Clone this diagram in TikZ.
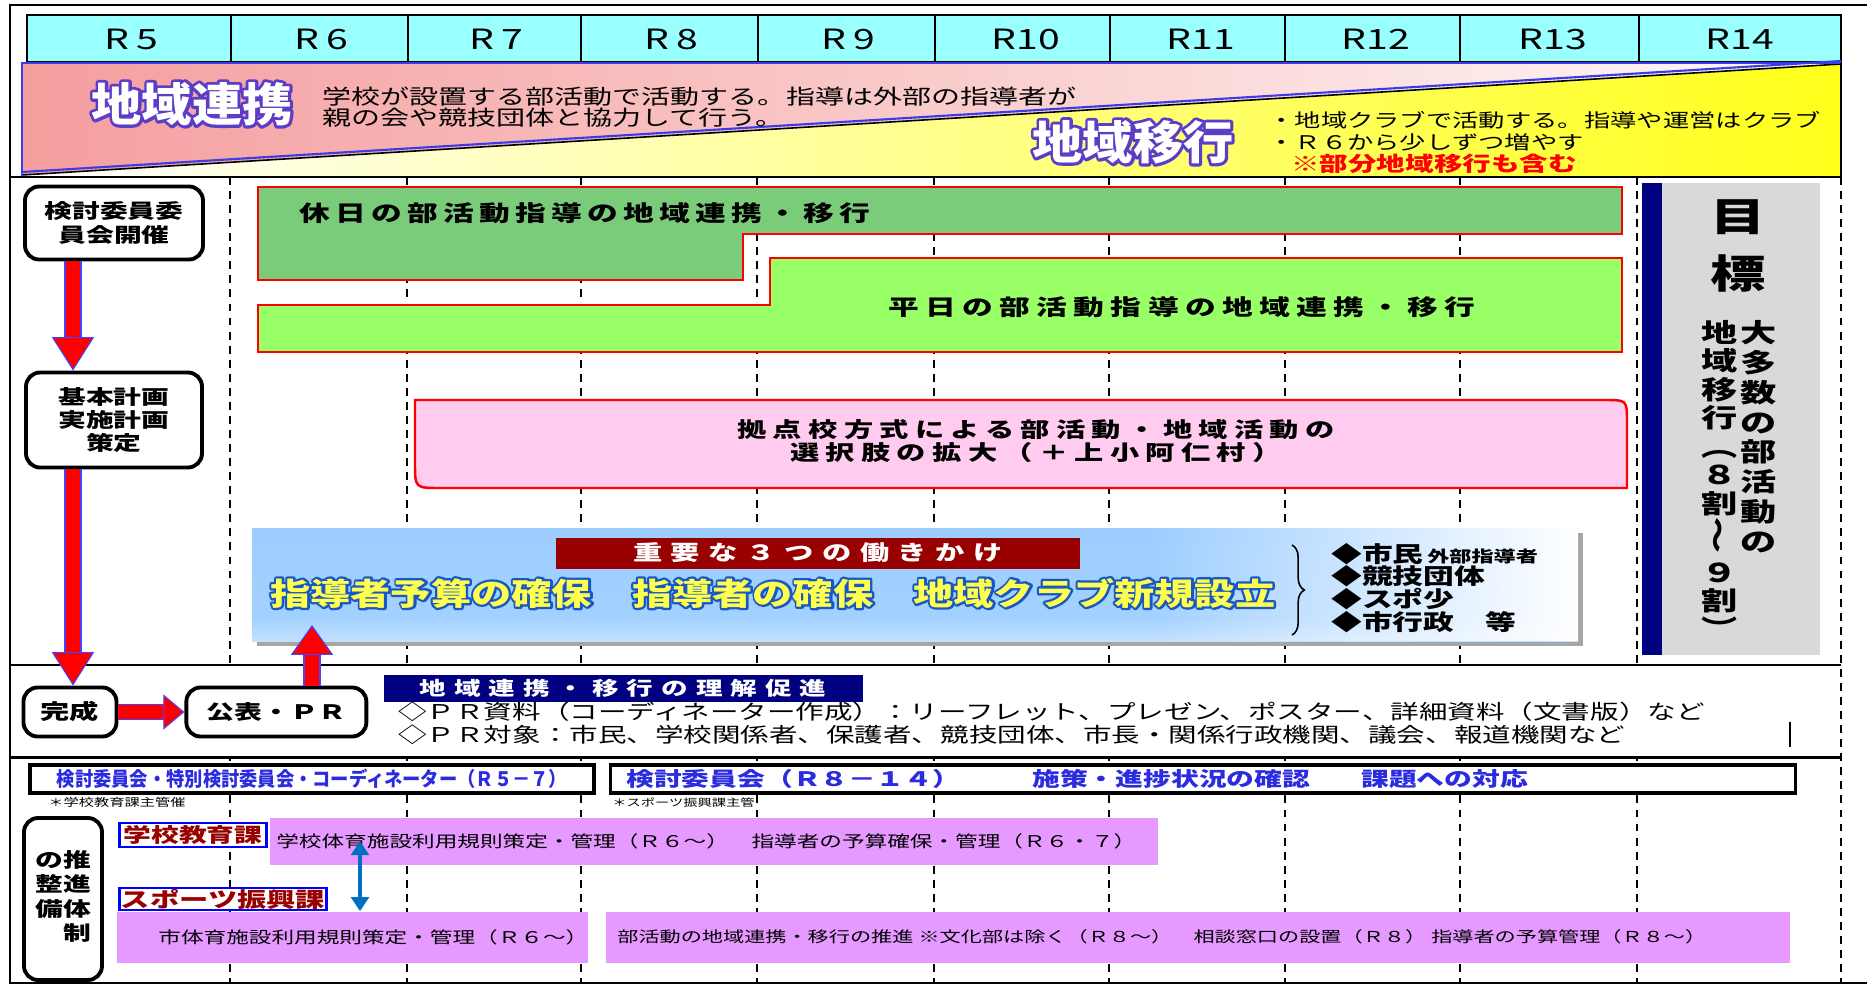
\documentclass[tikz,border=0pt]{standalone}
\usepackage{fontspec}
\usepackage{graphicx}
\usetikzlibrary{arrows.meta, positioning, decorations.pathreplacing, fadings}

\setmainfont{Noto Sans CJK JP}[FakeStretch=1.4]
\newfontfamily\popfont{Noto Sans CJK JP}[FakeStretch=1.1]
\newfontfamily\yelfont{Noto Sans CJK JP}[FakeStretch=1.3]
\newfontfamily\slimfont{Noto Sans CJK JP}[FakeStretch=0.92]

\newlength\pxu
\setlength\pxu{0.02cm}

\definecolor{headcyan}{HTML}{99FFFF}
\definecolor{bandpink}{HTML}{F59E9E}
\definecolor{bandyellow}{HTML}{FFFF1A}
\definecolor{bandblue}{HTML}{3C3CE6}
\definecolor{holidaygreen}{HTML}{7ACB7A}
\definecolor{weekdaygreen}{HTML}{99FF66}
\definecolor{hubpink}{HTML}{FFCCF0}
\definecolor{skyblue}{HTML}{99CCFF}
\definecolor{titlered}{HTML}{990000}
\definecolor{popyellow}{HTML}{FFFF4D}
\definecolor{goalnavy}{HTML}{000080}
\definecolor{goalgray}{HTML}{D9D9D9}
\definecolor{linkblue}{HTML}{2B2BE0}
\definecolor{deptred}{HTML}{990000}
\definecolor{deptblue}{HTML}{0000FF}
\definecolor{barviolet}{HTML}{E699FF}
\definecolor{linkarrow}{HTML}{0070C0}
\definecolor{outlineblue}{HTML}{4444FF}

% soft blue panel, white at the bottom
\pgfdeclareverticalshading{skyfade}{100bp}{color(0bp)=(white); color(12bp)=(white!80!skyblue); color(35bp)=(skyblue!90!white); color(100bp)=(skyblue)}
\tikzfading[name=fadein right, left color=transparent!100, right color=transparent!0]

% outlined lettering: stroke width, stroke rgb, fill colour, text
\newcommand\strokeword[4]{\rlap{\special{pdf:code 1 j #1 w #2 RG 1 Tr}#4\special{pdf:code 0 Tr}}\textcolor{#3}{#4}}

\begin{document}
\begin{tikzpicture}[x=0.02cm, y=-0.02cm, every node/.style={inner sep=0pt},
    gridline/.style={line width=1.1pt, dash pattern=on 4.5pt off 3.5pt},
    yearlabel/.style={font=\fontsize{15.9pt}{16pt}\selectfont},
    roundbox/.style={draw, line width=2.2pt, rounded corners=8pt, fill=white, align=center,
        font=\bfseries\fontsize{11.3pt}{13.3pt}\selectfont},
    redline/.style={draw=red, line width=1.4pt},
    spaced/.style args={#1/#2/#3}{font=\bfseries\fontsize{#1}{#2}\selectfont\addfontfeature{LetterSpace=#3}},
    fatarrow/.style args={#1/#2/#3}{draw=red, line width=#1,
        -{Triangle[width=#2, length=#3, fill=red, color=outlineblue, line width=0.6pt]},
        preaction={draw=outlineblue, line width=#1+1.4pt, -, shorten >=#3-1pt}},
    deptbox/.style={draw=deptblue, line width=1.3pt, fill=white, text=deptred,
        font=\bfseries\fontsize{11.3pt}{12pt}\selectfont},
    violetbar/.style={fill=barviolet, anchor=west, font=\fontsize{9.2pt}{10pt}\selectfont},
    topbox/.style={draw, line width=1.8pt, fill=white, minimum height=28\pxu},
    node distance=66\pxu]

\useasboundingbox (0,0) rectangle (1867,987);

% year grid
\draw[gridline] (230,177) -- (230,983) (407,177) -- (407,983) (581,177) -- (581,983)
    (757,177) -- (757,983) (934,177) -- (934,983) (1109,177) -- (1109,983)
    (1285,177) -- (1285,983) (1460,177) -- (1460,983) (1637,177) -- (1637,983);

% PR band
\fill[white] (12,666) rectangle (1839,756);
\draw[line width=1.7pt] (10,665) -- (1841,665) (10,757) -- (1841,757);
\draw[gridline] (1841,177) -- (1841,983);

% years
\fill[headcyan] (27,15) rectangle (1841,62);
\draw[line width=0.9pt] (27,15) rectangle (1841,62);
\draw[line width=0.7pt] (231,15) -- (231,62) (408,15) -- (408,62) (581,15) -- (581,62)
    (758,15) -- (758,62) (935,15) -- (935,62) (1110,15) -- (1110,62) (1285,15) -- (1285,62)
    (1460,15) -- (1460,62) (1639,15) -- (1639,62);
\node[yearlabel] (r5) at (131,39) {R\hspace{4pt}5};
\node[yearlabel] (r6) at (321,39) {R\hspace{4pt}6};
\node[yearlabel] (r7) at (496,39) {R\hspace{4pt}7};
\node[yearlabel] (r8) at (671,39) {R\hspace{4pt}8};
\node[yearlabel] (r9) at (848,39) {R\hspace{4pt}9};
\node[yearlabel] (r10) at (1026,39) {R10};
\node[yearlabel] (r11) at (1201,39) {R11};
\node[yearlabel] (r12) at (1376,39) {R12};
\node[yearlabel] (r13) at (1553,39) {R13};
\node[yearlabel] (r14) at (1740,39) {R14};

% renkei / ikou band
\shade[left color=bandpink, middle color=bandpink!45!white, right color=bandpink!6!white]
    (22,63) -- (1841,63) -- (1841,64) -- (22,175) -- cycle;
\shade[left color=white, middle color=bandyellow!55!white, right color=bandyellow]
    (22,175) -- (1841,64) -- (1841,176) -- (22,176) -- cycle;
\draw[bandblue, line width=1.2pt] (22,172) -- (1841,61);
\draw[line width=0.9pt] (22,175) -- (1841,64);
\draw[bandblue, line width=1.2pt] (22,176) -- (22,63) -- (1841,63);
\draw[line width=1.3pt] (10,177) -- (1841,177) -- (1841,63);

\node[font=\popfont\bfseries\fontsize{26pt}{26pt}\selectfont] (renkei) at (192,104)
    {\strokeword{3.4}{0.36 0.24 0.78}{white}{地域連携}};
\node[anchor=west, align=left, font=\fontsize{11.8pt}{11.9pt}\selectfont] (renkeinote) at (322,107)
    {学校が設置する部活動で活動する。指導は外部の指導者が\\親の会や競技団体と協力して行う。};
\node[font=\popfont\bfseries\fontsize{26pt}{26pt}\selectfont] (ikou) at (1133,142)
    {\strokeword{3.4}{0.36 0.24 0.78}{white}{地域移行}};
\node[anchor=west, align=left, font=\fontsize{10.7pt}{12.5pt}\selectfont] (ikounote) at (1268,131)
    {・地域クラブで活動する。指導や運営はクラブ\\・Ｒ６から少しずつ増やす};
\node[anchor=west, text=red, font=\bfseries\fontsize{11.6pt}{12pt}\selectfont] (ikoupart) at (1291,164)
    {※部分地域移行も含む};

% holiday / weekday bars
\draw[redline, fill=holidaygreen] (258,187) -- (1622,187) -- (1622,234) -- (743,234) -- (743,280) -- (258,280) -- cycle;
\node[spaced=12.5pt/13pt/24] (holiday) at (585,213) {休日の部活動指導の地域連携・移行};
\draw[redline, fill=weekdaygreen] (258,305) -- (770,305) -- (770,258) -- (1622,258) -- (1622,352) -- (258,352) -- cycle;
\node[spaced=12.5pt/13pt/29] (weekday) at (1182,307) {平日の部活動指導の地域連携・移行};

% hub schools
\draw[redline, fill=hubpink] (415,400) -- (1605,400) .. controls (1627,400) .. (1627,422)
    -- (1627,488) -- (440,488) .. controls (415,488) .. (415,463) -- cycle;
\node[spaced=11.9pt/13pt/30, align=center] (hub) at (1036,441)
    {拠点校方式による部活動・地域活動の\\選択肢の拡大（＋上小阿仁村）};

% three actions
\fill[black!35] (257,533) rectangle (1583,646);
\shade[shading=skyfade] (252,528) rectangle (1578,641);
\fill[white, path fading=fadein right] (1150,528) rectangle (1578,641);
\node[fill=titlered, minimum width=524\pxu, minimum height=31\pxu, text=white, spaced=11.9pt/12pt/41] (actions) at (818,553)
    {重要な３つの働きかけ};
\node[anchor=west, font=\yelfont\bfseries\fontsize{17.6pt}{18pt}\selectfont] (actionlist) at (270,593)
    {\strokeword{2.6}{0.09 0.34 0.78}{popyellow}{指導者予算の確保　指導者の確保　地域クラブ新規設立}};
\coordinate (bracetop) at (1292,545);
\coordinate (bracebottom) at (1292,635);
\draw[line width=0.9pt, decorate, decoration={brace, amplitude=7pt}] (bracetop) -- (bracebottom);
\node[anchor=west, align=left, font=\bfseries\fontsize{12.5pt}{13pt}\selectfont] (partners) at (1331,588)
    {◆市民\,{\fontsize{9pt}{9pt}\selectfont 外部指導者}\\◆競技団体\\◆スポ少\\◆市行政　等};

% goal
\fill[goalnavy] (1642,183) rectangle (1662,655);
\fill[goalgray] (1662,183) rectangle (1820,655);
\node[font=\bfseries\fontsize{22.5pt}{23pt}\selectfont] (goalA) at (1738,217) {目};
\node[font=\bfseries\fontsize{22.5pt}{23pt}\selectfont] (goalB) at (1738,273) {標};
\node[anchor=north, align=center, font=\bfseries\fontsize{14.7pt}{17pt}\selectfont] (goalmajority) at (1759,320)
    {大\\多\\数\\の\\部\\活\\動\\の};
\node[anchor=north, align=center, font=\bfseries\fontsize{14.7pt}{16.2pt}\selectfont] (goalshare) at (1720,320)
    {地\\域\\移\\行\\︵\\８\\割\\\rotatebox{90}{～}\\９\\割\\︶};

% flow on the left
\node[roundbox, minimum width=178\pxu, minimum height=73\pxu] (kentou) at (114,223) {検討委員委\\員会開催};
\node[roundbox, minimum width=176\pxu, minimum height=95\pxu] (kihon) at (114,420) {基本計画\\実施計画\\策定};
\node[roundbox, minimum width=93\pxu, minimum height=49\pxu, font=\bfseries\fontsize{11.9pt}{12pt}\selectfont] (kansei) at (70,712) {完成};
\node[roundbox, minimum width=180\pxu, minimum height=49\pxu, right=of kansei] (kouhyou) {公表・ＰＲ};

% PR
\node[fill=goalnavy, minimum width=479\pxu, minimum height=27\pxu, text=white, spaced=10.8pt/11pt/42] (understand) at (623,688)
    {地域連携・移行の理解促進};
\node[anchor=west, align=left, font=\fontsize{11.6pt}{13pt}\selectfont] (prlines) at (398,723)
    {◇ＰＲ資料（コーディネーター作成）：リーフレット、プレゼン、ポスター、詳細資料（文書版）など\\◇ＰＲ対象：市民、学校関係者、保護者、競技団体、市長・関係行政機関、議会、報道機関など};
\draw[line width=0.6pt] (1790,722) -- (1790,747);

% organisation
\node[topbox, minimum width=564\pxu, text=linkblue, font=\slimfont\bfseries\fontsize{11.3pt}{12pt}\selectfont] (boardA) at (312,779)
    {検討委員会・特別検討委員会・コーディネーター（Ｒ５－７）};
\node[anchor=north west, font=\fontsize{6.2pt}{7pt}\selectfont] (boardAnote) at (48,797) {＊学校教育課主管催};
\node[topbox, minimum width=1185\pxu] (boardB) at (1203,779) {};
\node[anchor=west, text=linkblue, font=\bfseries\fontsize{11.3pt}{12pt}\selectfont] (boardBname) at (626,779) {検討委員会（Ｒ８－１４）};
\node[anchor=west, text=linkblue, font=\bfseries\fontsize{11.3pt}{12pt}\selectfont] (boardBtask) at (1032,779)
    {施策・進捗状況の確認\hspace{29pt}課題への対応};
\node[anchor=north west, font=\fontsize{5.8pt}{6pt}\selectfont] (boardBnote) at (612,797) {＊スポーツ振興課主管};

\node[roundbox, minimum width=78\pxu, minimum height=162\pxu, font=\bfseries\fontsize{11.3pt}{13.6pt}\selectfont] (taisei) at (63,899)
    {\begin{tabular}{@{}c@{}c@{}}の&推\\整&進\\備&体\\&制\end{tabular}};
\node[deptbox, minimum width=147\pxu, minimum height=24\pxu] (school) at (193,835) {学校教育課};
\node[deptbox, minimum width=207\pxu, minimum height=22\pxu, font=\bfseries\fontsize{11.9pt}{12pt}\selectfont] (sports) at (223,899) {スポーツ振興課};
\node[violetbar, minimum height=47\pxu, text width=876\pxu, inner xsep=6\pxu, align=left] (schoolbar) at (270,841)
    {学校体育施設利用規則策定・管理（Ｒ６～）　指導者の予算確保・管理（Ｒ６・７）};
\node[violetbar, minimum height=51\pxu, text width=471\pxu, align=right] (citybar) at (117,937)
    {市体育施設利用規則策定・管理（Ｒ６～）};
\node[violetbar, minimum height=51\pxu, text width=1162\pxu, inner xsep=11\pxu, align=left, font=\fontsize{8.6pt}{9pt}\selectfont] (clubbar) at (606,937)
    {部活動の地域連携・移行の推進\ ※文化部は除く（Ｒ８～）　相談窓口の設置（Ｒ８）\ 指導者の予算管理（Ｒ８～）};
\coordinate (linkx) at (360,0);
\draw[linkarrow, line width=2.6pt, {Triangle[width=10pt, length=8pt]}-{Triangle[width=10pt, length=8pt]}]
    (schoolbar.center -| linkx) -- (citybar.north -| linkx);

% arrows
\coordinate (flowx) at (73,0);
\coordinate (prtip) at (312,625);
\draw[fatarrow=8.5pt/24pt/19pt] (kentou.south -| flowx) -- (kihon.north -| flowx);
\draw[fatarrow=8.5pt/24pt/19pt] (kihon.south -| flowx) -- (kansei.north -| flowx);
\draw[fatarrow=8pt/20pt/12pt] (kansei.east) -- (kouhyou.west);
\draw[fatarrow=8.5pt/24pt/17pt] (kouhyou.north -| prtip) -- (prtip);

% frame
\draw[line width=1.5pt] (1867,5) -- (10,5) -- (10,983) -- (1867,983);

\end{tikzpicture}
\end{document}
